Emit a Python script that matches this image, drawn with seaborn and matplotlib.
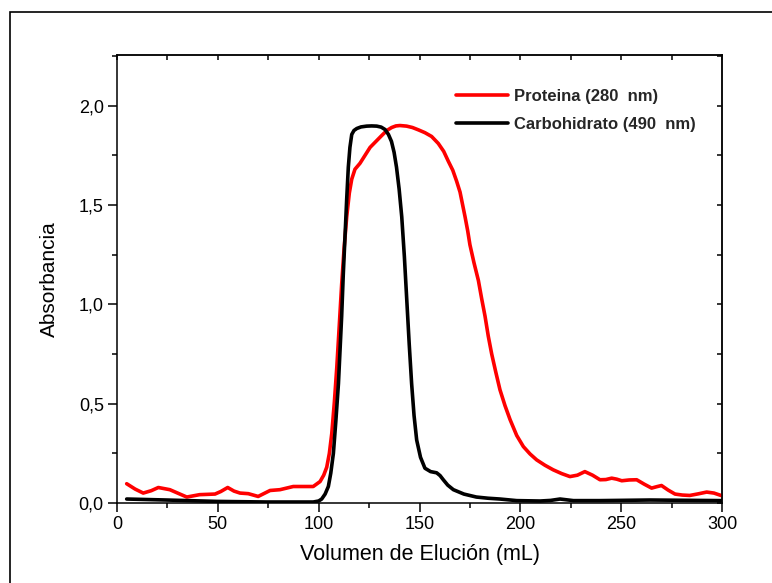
import matplotlib
matplotlib.use("Agg")
import matplotlib.pyplot as plt
import matplotlib.patches as patches
from matplotlib.ticker import MultipleLocator, FuncFormatter
import seaborn as sns
import pandas as pd

# ---- data ----
prot_x = [4.8, 9, 13, 17, 20.5, 26.2, 30.5, 34.6, 41, 48.6, 51.5, 54.9, 58, 61, 65.1, 70, 75.9,
          80.8, 87.4, 92.4, 97.3, 100.7, 102.5, 104, 105.3, 106.5, 107.8, 109, 110.2, 111.4,
          112.6, 113.9, 115.2, 116.4, 118, 120.5, 123, 125.5, 128.4, 131.3, 133.8, 136.2, 138.3,
          140.3, 143.6, 146.5, 149.5, 152.7, 156, 159.3, 162, 164.3, 166.5, 168.4, 170.1, 171.4,
          172.6, 173.9, 175, 177, 179.2, 180.8, 182.5, 184.1, 185.8, 187.8, 189.9, 192.4, 194.9,
          198.2, 201.5, 204.8, 208.1, 212.2, 216.3, 220.5, 224.6, 228.3, 232, 235.8, 239.5, 242.4,
          245.3, 247.8, 250.3, 254, 257.7, 261.4, 265.1, 267.6, 270, 273.3, 276.7, 280.3, 284,
          288.2, 292.4, 296, 299.8]
prot_y = [0.097, 0.07, 0.05, 0.062, 0.078, 0.067, 0.048, 0.03, 0.042, 0.045, 0.058, 0.078, 0.06,
          0.05, 0.047, 0.033, 0.063, 0.067, 0.083, 0.083, 0.083, 0.108, 0.14, 0.18, 0.25, 0.35,
          0.51, 0.685, 0.89, 1.10, 1.28, 1.44, 1.56, 1.63, 1.68, 1.71, 1.75, 1.79, 1.82, 1.85,
          1.875, 1.89, 1.898, 1.90, 1.897, 1.89, 1.878, 1.864, 1.845, 1.81, 1.77, 1.72, 1.675,
          1.62, 1.565, 1.50, 1.44, 1.37, 1.30, 1.21, 1.12, 1.03, 0.94, 0.84, 0.75, 0.66, 0.57,
          0.49, 0.42, 0.34, 0.284, 0.247, 0.217, 0.19, 0.167, 0.148, 0.133, 0.14, 0.158, 0.14,
          0.117, 0.118, 0.125, 0.12, 0.112, 0.116, 0.117, 0.095, 0.075, 0.082, 0.088, 0.065,
          0.045, 0.04, 0.038, 0.046, 0.055, 0.05, 0.037]

carb_x = [4.8, 24.6, 49.4, 74.2, 97.3, 100, 101.5, 103.2, 104.8, 106, 107.3, 108.5, 109.8, 110.6,
          111.4, 112.2, 113.1, 113.9, 114.7, 115.5, 116.4, 117.5, 118.9, 121, 123.8, 126.3, 128.8,
          131, 132.9, 134.6, 136.1, 137.4, 138.6, 139.9, 141.2, 142.5, 143.7, 144.9, 146.1, 147.3,
          148.6, 150.5, 152.7, 155.5, 158.5, 160.2, 161.8, 164, 166.8, 172, 178.2, 184, 189.9,
          198.2, 209.8, 215, 219.7, 226.3, 239.5, 264.3, 299.8]
carb_y = [0.02, 0.015, 0.008, 0.005, 0.005, 0.01, 0.02, 0.045, 0.083, 0.15, 0.25, 0.41, 0.60,
          0.77, 0.94, 1.15, 1.35, 1.53, 1.69, 1.79, 1.855, 1.875, 1.885, 1.893, 1.897, 1.898,
          1.897, 1.892, 1.88, 1.855, 1.82, 1.765, 1.69, 1.58, 1.44, 1.24, 1.02, 0.80, 0.60, 0.44,
          0.317, 0.23, 0.175, 0.158, 0.152, 0.138, 0.117, 0.09, 0.067, 0.045, 0.03, 0.024, 0.02,
          0.012, 0.01, 0.013, 0.02, 0.012, 0.012, 0.015, 0.012]

series_names = ["Proteina (280  nm)", "Carbohidrato (490  nm)"]
x_ticks = [0, 50, 100, 150, 200, 250, 300]
y_ticks = [0.0, 0.5, 1.0, 1.5, 2.0]

df = pd.concat([
    pd.DataFrame({"x": prot_x, "y": prot_y, "serie": series_names[0]}),
    pd.DataFrame({"x": carb_x, "y": carb_y, "serie": series_names[1]}),
], ignore_index=True)

sns.set_theme(style="white")
plt.rcParams["font.family"] = ["Liberation Sans", "DejaVu Sans"]

fig = plt.figure(figsize=(7.72, 5.83), dpi=100)
ax = fig.add_axes([117 / 772, 80 / 583, 605 / 772, 448 / 583])

sns.lineplot(data=df, x="x", y="y", hue="serie", sort=False,
             palette={series_names[0]: "#ff0000", series_names[1]: "#000000"},
             linewidth=2.6, ax=ax, legend=True)
for ln in ax.get_lines():
    ln.set_solid_joinstyle("round")
    ln.set_solid_capstyle("round")

ax.set_xlim(0, 300)
ax.set_ylim(0, 2.255)
ax.set_xticks(x_ticks)
ax.set_yticks(y_ticks)
ax.xaxis.set_minor_locator(MultipleLocator(25))
ax.yaxis.set_minor_locator(MultipleLocator(0.25))
ax.yaxis.set_major_formatter(FuncFormatter(lambda v, p: f"{v:.1f}".replace(".", ",")))
ax.xaxis.set_major_formatter(FuncFormatter(lambda v, p: f"{int(v)}"))

for s in ax.spines.values():
    s.set_color("black")
    s.set_linewidth(1.1)
    s.set_visible(True)

ax.tick_params(which="major", direction="out", length=6.5, width=1.1, color="black",
               labelsize=13, labelcolor="black", pad=3, bottom=True, left=True)
ax.tick_params(which="minor", direction="out", length=3.5, width=1.1, color="black",
               bottom=True, left=True)

# inward ticks on top and right
top = ax.secondary_xaxis("top")
top.set_xticks(x_ticks)
top.xaxis.set_minor_locator(MultipleLocator(25))
top.tick_params(which="both", direction="in", length=3.5, width=1.1, color="black", labeltop=False)
top.spines["top"].set_linewidth(1.1)
right = ax.secondary_yaxis("right")
right.set_yticks(y_ticks)
right.yaxis.set_minor_locator(MultipleLocator(0.25))
right.tick_params(which="both", direction="in", length=3.5, width=1.1, color="black", labelright=False)
right.spines["right"].set_linewidth(1.1)

ax.set_xlabel("Volumen de Elución (mL)", fontsize=15.5, color="black", labelpad=8)
ax.set_ylabel("Absorbancia", fontsize=15, color="black", labelpad=14)

leg = ax.legend(loc="upper left", bbox_to_anchor=((456 - 117) / 605, (503 - 89) / 448),
                frameon=False, borderpad=0, borderaxespad=0, handlelength=3.1,
                handletextpad=0.35, labelspacing=0.78, prop={"weight": "bold", "size": 12})
for h in leg.get_lines():
    h.set_linewidth(2.6)

# outer frame (only left and top visible)
fig.patches.append(patches.Rectangle((10 / 772, -0.5), 2.0, 0.5 + (1 - 12 / 583),
                                     transform=fig.transFigure, fill=False,
                                     edgecolor="black", linewidth=1.2))

fig.savefig("out.png", dpi=100)
